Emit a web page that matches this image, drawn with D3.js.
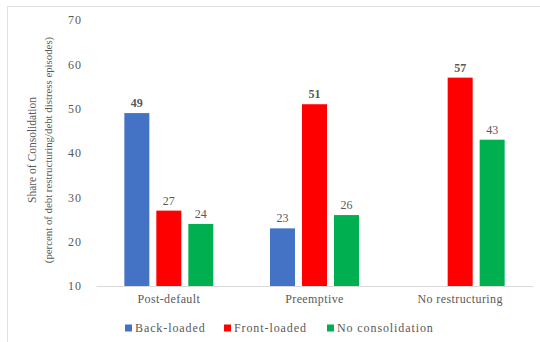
<!DOCTYPE html>
<html>
<head>
<meta charset="utf-8">
<script src="https://cdn.jsdelivr.net/npm/d3@7"></script>
<style>
  body { margin: 0; background: #fff; }
  text { font-family: "Liberation Serif", "Times New Roman", serif; fill: #595959; }
</style>
</head>
<body>
<svg id="chart"></svg>
<script>
const categories = ["Post-default", "Preemptive", "No restructuring"];
const seriesNames = ["Back-loaded", "Front-loaded", "No consolidation"];
const backLoaded = [49, 23, null];
const frontLoaded = [27, 51, 57];
const noConsolidation = [24, 26, 43];
const yTicks = [10, 20, 30, 40, 50, 60, 70];
const colors = ["#4472C4", "#FF0000", "#00B050"];

const values = [backLoaded, frontLoaded, noConsolidation];

const svgWidth = 540, svgHeight = 342;
const svg = d3.select("#chart")
  .attr("width", svgWidth)
  .attr("height", svgHeight);

// light frame
svg.append("rect")
  .attr("x", 7.5).attr("y", 6.5)
  .attr("width", 560).attr("height", 360)
  .attr("fill", "none")
  .attr("stroke", "#e2e2e2");

const x0 = d3.scaleBand().domain(categories).range([96, 533]);
const x1 = d3.scaleBand().domain(seriesNames)
  .range([0, x0.bandwidth()])
  .paddingInner(0.21875)
  .paddingOuter(0.886);
const y = d3.scaleLinear().domain([10, 70]).range([286, 20]);

// y axis labels (no line)
const yAxis = svg.append("g")
  .attr("transform", "translate(88,0)")
  .call(d3.axisLeft(y).tickValues(yTicks).tickSize(0).tickPadding(6));
yAxis.select(".domain").remove();
yAxis.selectAll("text")
  .style("font-family", "Liberation Serif")
  .style("font-size", "12px")
  .style("letter-spacing", "1px")
  .attr("fill", "#595959");

// x axis baseline
const xAxis = svg.append("g")
  .attr("transform", "translate(0," + y(10) + ")")
  .call(d3.axisBottom(x0).tickSize(0).tickPadding(8));
xAxis.select(".domain").attr("stroke", "#d9d9d9");
xAxis.selectAll("text")
  .style("font-family", "Liberation Serif")
  .style("font-size", "12px")
  .style("letter-spacing", "0.4px")
  .attr("fill", "#595959");

// bars
const rows = [];
categories.forEach((c, i) => {
  seriesNames.forEach((s, j) => {
    const v = values[j][i];
    if (v != null) rows.push({ cat: c, series: s, j: j, value: v });
  });
});

const groupMax = {};
categories.forEach((c, i) => {
  groupMax[c] = d3.max(values, arr => arr[i]);
});

svg.append("g").selectAll("rect")
  .data(rows)
  .join("rect")
  .attr("x", d => x0(d.cat) + x1(d.series))
  .attr("y", d => y(d.value))
  .attr("width", x1.bandwidth())
  .attr("height", d => y(10) - y(d.value))
  .attr("fill", d => colors[d.j]);

svg.append("g").selectAll("text")
  .data(rows)
  .join("text")
  .attr("x", d => x0(d.cat) + x1(d.series) + x1.bandwidth() / 2)
  .attr("y", d => y(d.value) - 6)
  .attr("text-anchor", "middle")
  .style("font-size", "12px")
  .style("font-weight", d => d.value === groupMax[d.cat] ? "bold" : "normal")
  .attr("fill", "#404040")
  .text(d => d.value);

// y title
const title = svg.append("text")
  .attr("transform", "translate(36,150) rotate(-90)")
  .attr("text-anchor", "middle");
title.append("tspan").attr("x", 0).attr("dy", 0)
  .style("font-size", "11.5px")
  .text("Share of Consolidation");
title.append("tspan").attr("x", 0).attr("dy", 16)
  .style("font-size", "10.8px")
  .text("(percent of debt restructuring/debt distress episodes)");

// legend
const legendX = [125, 224, 327];
const legend = svg.append("g").selectAll("g")
  .data(seriesNames)
  .join("g")
  .attr("transform", (d, i) => "translate(" + legendX[i] + ",328)");
legend.append("rect")
  .attr("x", 0).attr("y", -3.5)
  .attr("width", 7).attr("height", 7)
  .attr("fill", (d, i) => colors[i]);
legend.append("text")
  .attr("x", 10).attr("dy", "0.35em")
  .style("font-size", "12px")
  .style("letter-spacing", "0.9px")
  .text(d => d);
</script>
</body>
</html>
